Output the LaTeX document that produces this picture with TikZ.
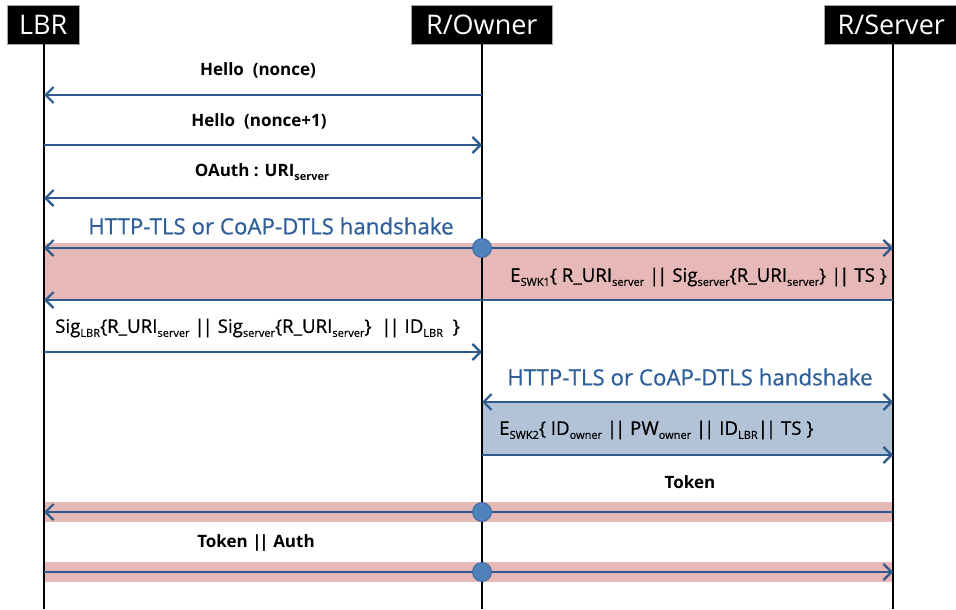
\documentclass[tikz,border=0pt]{standalone}
\usepackage{fontspec}
\setmainfont{Open Sans}
\newfontfamily\medfont[FakeBold=0.6]{Open Sans}
\usetikzlibrary{arrows.meta}
\definecolor{arrowblue}{HTML}{2E5A8E}
\definecolor{pinkband}{HTML}{E6B9B8}
\definecolor{blueband}{HTML}{B3C3D7}
\definecolor{circfill}{HTML}{4F81BD}
\definecolor{circdraw}{HTML}{3A6496}
\definecolor{hstext}{HTML}{2F5F9A}
\newcommand{\subt}[1]{\raisebox{-0.4ex}{\fontsize{11}{12}\selectfont #1}}
\newcommand{\bars}{|\kern-2.2pt|}
\tikzset{
  header/.style={fill=black, draw=gray!70, line width=0.6pt, text=white, inner sep=0pt,
    font=\fontsize{27}{30}\selectfont, anchor=north west},
  lifeline/.style={line width=2.8pt, black},
  tip/.style={},
  msg/.style={line width=2.8pt, arrowblue, -{Straight Barb[length=8pt,width=16pt,line width=2.2pt]}},
  dmsg/.style={line width=2.8pt, arrowblue, {Straight Barb[length=8pt,width=16pt,line width=2.2pt]}-{Straight Barb[length=8pt,width=16pt,line width=2.2pt]}},
  lbl/.style={font=\bfseries\fontsize{17}{19}\selectfont, inner sep=0pt},
  lblr/.style={font=\medfont\fontsize{18.7}{20}\selectfont, inner sep=0pt},
  hs/.style={font=\medfont\fontsize{22.3}{24}\selectfont, text=hstext, inner sep=0pt},
  dot/.style={circle, fill=circfill, draw=circdraw, line width=0.8pt, minimum size=19pt, inner sep=0pt},
}
\begin{document}
\begin{tikzpicture}[x=1pt,y=-1pt]
\fill[white] (0,0) rectangle (956,610);
\useasboundingbox (0,0) rectangle (956,610);
% headers
\node[header, minimum width=72pt, minimum height=39pt] (lbr) at (7,5) {LBR};
\node[header, minimum width=141pt, minimum height=39pt] (own) at (411,5) {R/Owner};
\node[header, minimum width=134pt, minimum height=39pt] (srv) at (824,5) {R/Server};
% lifeline coordinates
\coordinate (lbrT) at (44,44);  \coordinate (lbrB) at (44,609);
\coordinate (ownT) at (482,44); \coordinate (ownB) at (482,609);
\coordinate (srvT) at (893,44); \coordinate (srvB) at (893,609);
% bands
\fill[pinkband] (44,243) rectangle (893,301);
\fill[blueband] (482,402) rectangle (893,455);
\fill[pinkband] (44,502) rectangle (893,522);
\fill[pinkband] (44,562) rectangle (893,582);
% lifelines
\draw[lifeline] (lbrT) -- (lbrB);
\draw[lifeline] (ownT) -- (ownB);
\draw[lifeline] (srvT) -- (srvB);
% message coordinates
\coordinate (a1) at (482,95);  \coordinate (b1) at (44,95);
\coordinate (a2) at (44,145);  \coordinate (b2) at (482,145);
\coordinate (a3) at (482,198); \coordinate (b3) at (44,198);
\coordinate (a4) at (44,248);  \coordinate (b4) at (893,248);
\coordinate (a5) at (893,300); \coordinate (b5) at (44,300);
\coordinate (a6) at (44,352);  \coordinate (b6) at (482,352);
\coordinate (a7) at (482,402); \coordinate (b7) at (893,402);
\coordinate (a8) at (482,455); \coordinate (b8) at (893,455);
\coordinate (a9) at (893,512); \coordinate (b9) at (44,512);
\coordinate (a10) at (44,572); \coordinate (b10) at (893,572);
% arrows
\draw[msg] (a1) -- (b1);
\draw[msg] (a2) -- (b2);
\draw[msg] (a3) -- (b3);
\draw[dmsg] (a4) -- (b4);
\draw[msg] (a5) -- (b5);
\draw[msg] (a6) -- (b6);
\draw[dmsg] (a7) -- (b7);
\draw[msg] (a8) -- (b8);
\draw[msg] (a9) -- (b9);
\draw[msg] (a10) -- (b10);
% dots
\node[dot] (d4) at (482,248) {};
\node[dot] (d9) at (482,512) {};
\node[dot] (d10) at (482,572) {};
% labels
\node[lbl] (t1) at (258,70) {Hello\ \ (nonce)};
\node[lbl] (t2) at (259,121) {Hello\ \ (nonce+1)};
\node[lbl] (t3) at (262,172) {OAuth : URI\subt{\bfseries server}};
\node[hs] (t4) at (271,226) {HTTP-TLS or CoAP-DTLS handshake};
\node[lblr, anchor=west] (t5) at (510,277) {E\subt{SWK1}\{ R\_URI\subt{server} \bars{} Sig\subt{server}\{R\_URI\subt{server}\} \bars{} TS \}};
\node[lblr, anchor=west] (t6) at (55,328) {Sig\subt{LBR}\{R\_URI\subt{server} \bars{} Sig\subt{server}\{R\_URI\subt{server}\}\ \ \bars{} ID\subt{LBR}\ \ \}};
\node[hs] (t7) at (690,377) {HTTP-TLS or CoAP-DTLS handshake};
\node[lblr, anchor=west] (t8) at (499,430) {E\subt{SWK2}\{ ID\subt{owner} \bars{} PW\subt{owner} \bars{} ID\subt{LBR}\bars{} TS \}};
\node[lbl] (t9) at (690,482) {Token};
\node[lbl] (t10) at (256,543) {Token \bars{} Auth};
\end{tikzpicture}
\end{document}
